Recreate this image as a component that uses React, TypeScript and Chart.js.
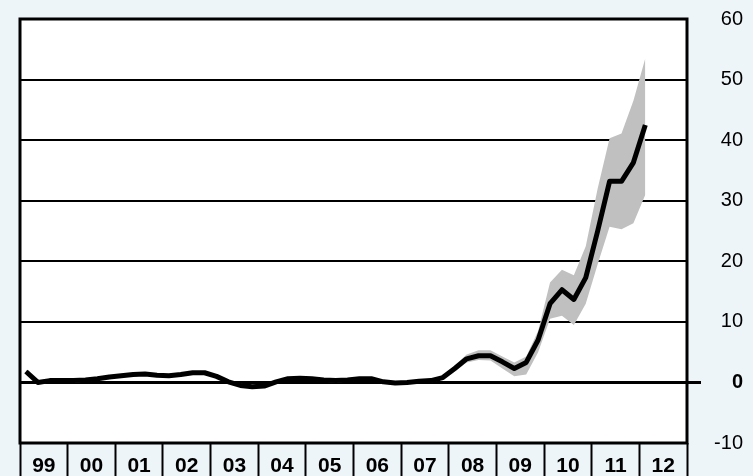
import React, { useEffect, useRef } from "react";
import { Chart, registerables } from "chart.js";

Chart.register(...registerables);

const FONT = "'Liberation Sans', Arial, sans-serif";

const yearLabels = ["99", "00", "01", "02", "03", "04", "05", "06", "07", "08", "09", "10", "11", "12"];

// quarterly observations, 1999 Q1 to 2012 Q1
const centralPath = [
  1.8, 0.0, 0.3, 0.3, 0.3, 0.4, 0.6, 0.9, 1.1, 1.3, 1.4, 1.2, 1.1, 1.3, 1.6, 1.6,
  1.0, 0.1, -0.5, -0.7, -0.6, 0.1, 0.6, 0.7, 0.6, 0.4, 0.3, 0.4, 0.6, 0.6, 0.1, -0.1,
  0.0, 0.2, 0.3, 0.8, 2.3, 3.9, 4.4, 4.4, 3.4, 2.3, 3.3, 7.0, 13.0, 15.3, 13.7, 17.3,
  25.0, 33.2, 33.2, 36.3, 42.5,
];

const bandUpper = [
  2.1, 0.3, 0.6, 0.6, 0.6, 0.7, 0.9, 1.2, 1.4, 1.6, 1.7, 1.5, 1.4, 1.6, 1.9, 1.9,
  1.3, 0.4, -0.2, -0.4, -0.3, 0.4, 0.9, 1.0, 0.9, 0.7, 0.6, 0.7, 0.9, 0.9, 0.4, 0.2,
  0.3, 0.5, 0.6, 1.1, 2.8, 4.6, 5.3, 5.3, 4.3, 3.3, 4.3, 8.5, 16.5, 18.6, 17.7, 22.5,
  32.0, 40.3, 41.1, 46.5, 53.5,
];

const bandLower = [
  1.5, -0.3, 0.0, 0.0, 0.0, 0.1, 0.3, 0.6, 0.8, 1.0, 1.1, 0.9, 0.8, 1.0, 1.3, 1.3,
  0.7, -0.2, -0.8, -1.0, -0.9, -0.2, 0.3, 0.4, 0.3, 0.1, 0.0, 0.1, 0.3, 0.3, -0.2, -0.4,
  -0.3, -0.1, 0.0, 0.5, 1.8, 3.3, 3.7, 3.6, 2.3, 1.0, 1.3, 5.0, 10.5, 11.0, 9.5, 13.0,
  19.5, 25.7, 25.3, 26.3, 31.0,
];

const yMin = -10;
const yMax = 60;
const yStep = 10;

const toPoints = (arr: number[]) => arr.map((v, i) => ({ x: (i + 0.5) / 4, y: v }));

const frame = {
  id: "frame",
  beforeDraw(chart: any) {
    const { ctx, chartArea: a } = chart;
    ctx.save();
    ctx.fillStyle = "#ffffff";
    ctx.fillRect(a.left, a.top, a.right - a.left, a.bottom - a.top);
    ctx.restore();
  },
  afterDraw(chart: any) {
    const { ctx, chartArea: a } = chart;
    ctx.save();
    ctx.strokeStyle = "#000";
    ctx.lineWidth = 3;
    ctx.strokeRect(a.left, a.top, a.right - a.left, a.bottom - a.top);
    ctx.restore();
  },
};

export default function App() {
  const ref = useRef<HTMLCanvasElement>(null);
  useEffect(() => {
    const chart = new Chart(ref.current as HTMLCanvasElement, {
      type: "line",
      data: {
        datasets: [
          {
            data: toPoints(bandUpper),
            borderWidth: 0,
            pointRadius: 0,
            backgroundColor: "#c0c0c0",
            borderColor: "rgba(0,0,0,0)",
            fill: "+1",
            order: 3,
          },
          {
            data: toPoints(bandLower),
            borderWidth: 0,
            pointRadius: 0,
            borderColor: "rgba(0,0,0,0)",
            fill: false,
            order: 2,
          },
          {
            data: toPoints(centralPath),
            borderColor: "#000",
            borderWidth: 5,
            pointRadius: 0,
            fill: false,
            borderJoinStyle: "round",
            order: 1,
          },
        ],
      } as any,
      options: {
        animation: false,
        responsive: false,
        devicePixelRatio: 1,
        layout: { padding: { left: 20, top: 19, right: 10, bottom: 0 } },
        plugins: { legend: { display: false }, tooltip: { enabled: false } },
        scales: {
          x: {
            type: "linear",
            min: 0,
            max: yearLabels.length,
            position: "bottom",
            afterBuildTicks: (s: any) => {
              s.ticks = yearLabels.map((_, i) => ({ value: i + 0.5 }));
            },
            afterFit: (s: any) => {
              s.height = 33;
            },
            border: { display: false },
            grid: {
              offset: true,
              drawOnChartArea: false,
              drawTicks: true,
              tickLength: 33,
              tickColor: "#000",
              tickWidth: 2,
            },
            ticks: {
              autoSkip: false,
              maxRotation: 0,
              minRotation: 0,
              padding: -22,
              color: "#000",
              font: { family: FONT, size: 21, weight: "bold" },
              callback: (_v: any, i: number) => yearLabels[i],
            },
          },
          y: {
            position: "right",
            min: yMin,
            max: yMax,
            afterFit: (s: any) => {
              s.width = 56;
            },
            border: { display: false },
            grid: {
              color: "#000",
              lineWidth: (c: any) => (c.tick && c.tick.value === 0 ? 3 : 2),
              drawTicks: true,
              tickLength: 14,
              tickWidth: 3,
              tickColor: (c: any) => (c.tick && c.tick.value === 0 ? "#000" : "rgba(0,0,0,0)"),
            },
            ticks: {
              stepSize: yStep,
              color: "#000",
              crossAlign: "far",
              padding: 4,
              font: (c: any) => ({
                family: FONT,
                size: 20,
                weight: c.tick && c.tick.value === 0 ? "bold" : "normal",
              }),
            },
          },
        },
      } as any,
      plugins: [frame],
    });
    return () => chart.destroy();
  }, []);

  return (
    <div
      style={{
        position: "fixed",
        left: 0,
        top: 0,
        width: 753,
        height: 476,
        background: "#eef5f9",
        overflow: "hidden",
      }}
    >
      <canvas ref={ref} width={753} height={476} style={{ display: "block" }} />
    </div>
  );
}
